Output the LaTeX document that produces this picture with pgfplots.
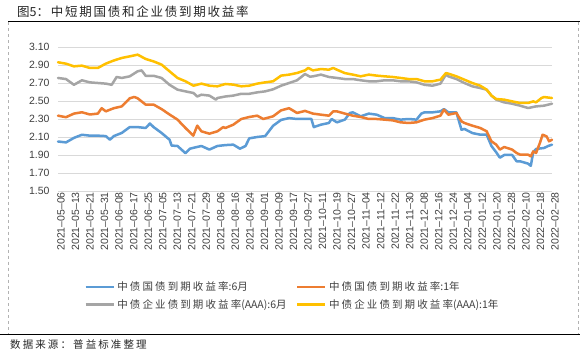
\documentclass[border=0pt]{standalone}
\usepackage{pgfplots}
\usepackage{pgfplotstable}
\pgfplotsset{compat=1.18}
\usepackage{fontspec}
\setmainfont{Liberation Sans}
\newfontfamily\cjk[LetterSpace=20]{Noto Sans CJK SC}
\newfontfamily\cjkn{Noto Sans CJK SC}
\newfontfamily\cjktitle[LetterSpace=14]{Noto Sans CJK SC}
\newcommand{\lat}[1]{{\cjkn #1}}
\definecolor{cblue}{HTML}{5B9BD5}
\definecolor{corange}{HTML}{ED7D31}
\definecolor{cgray}{HTML}{A5A5A5}
\definecolor{cyellow}{HTML}{FFC000}
\definecolor{gridc}{HTML}{D9D9D9}
\definecolor{txt}{HTML}{404040}

\pgfplotstableread{
t v
0 2.05
0.5 2.04
1.0 2.09
1.5 2.125
2.0 2.115
2.5 2.115
3.0 2.11
3.26 2.07
3.5 2.11
4.0 2.145
4.5 2.21
5.0 2.21
5.5 2.20
5.77 2.25
6.0 2.21
6.5 2.145
7.0 2.07
7.13 2.005
7.5 2.00
8.0 1.92
8.28 1.97
8.5 1.98
9.0 2.00
9.5 1.96
10.0 2.00
10.5 2.01
11.0 2.015
11.42 1.97
11.77 2.00
12.0 2.085
12.5 2.10
13.0 2.11
13.5 2.225
14.0 2.29
14.5 2.31
15.0 2.30
15.5 2.30
15.9 2.30
16.05 2.21
16.5 2.237
17.0 2.256
17.17 2.30
17.5 2.263
18.0 2.293
18.32 2.367
18.5 2.374
19.0 2.33
19.5 2.36
20.0 2.348
20.5 2.31
21.0 2.31
21.5 2.293
22.0 2.30
22.5 2.293
22.8 2.36
23.0 2.374
23.5 2.374
24.0 2.385
24.22 2.41
24.5 2.374
25.0 2.374
25.32 2.18
25.5 2.19
26.0 2.144
26.5 2.126
26.9 2.126
27.2 2.00
27.5 1.93
27.73 1.87
28.0 1.90
28.5 1.90
28.78 1.83
29.0 1.83
29.5 1.804
29.67 1.78
29.82 1.93
30.0 1.967
30.5 1.978
30.76 2.00
31.0 2.015
}\govsix

\pgfplotstableread{
t v
0 2.337
0.5 2.32
1.0 2.36
1.5 2.375
2.0 2.35
2.5 2.36
2.74 2.42
3.0 2.385
3.5 2.42
4.0 2.44
4.5 2.53
4.79 2.545
5.0 2.53
5.5 2.46
6.0 2.46
6.5 2.41
7.0 2.35
7.5 2.293
8.0 2.20
8.49 2.115
8.74 2.226
9.0 2.163
9.5 2.137
10.0 2.163
10.37 2.21
10.5 2.20
11.0 2.237
11.5 2.30
12.0 2.322
12.5 2.337
12.88 2.30
13.5 2.33
14.0 2.396
14.5 2.42
15.0 2.367
15.5 2.39
16.0 2.36
16.5 2.348
17.0 2.337
17.27 2.385
17.5 2.385
18.0 2.36
18.5 2.337
19.0 2.322
19.5 2.30
20.0 2.30
20.5 2.293
21.0 2.285
21.5 2.263
22.0 2.256
22.5 2.263
23.0 2.293
23.5 2.31
24.0 2.337
24.22 2.404
24.5 2.348
25.0 2.367
25.32 2.274
25.5 2.256
26.0 2.226
26.5 2.20
26.9 2.163
27.2 2.052
27.5 2.015
27.73 1.96
28.0 1.989
28.5 1.96
28.78 1.922
29.0 1.904
29.5 1.904
29.67 1.885
29.82 1.94
30.0 1.922
30.24 2.033
30.41 2.126
30.66 2.107
30.82 2.052
31.0 2.07
}\govone

\pgfplotstableread{
t v
0 2.756
0.5 2.744
1.0 2.68
1.5 2.73
2.0 2.707
2.5 2.70
3.0 2.693
3.37 2.68
3.68 2.767
4.0 2.756
4.5 2.774
5.0 2.83
5.25 2.84
5.5 2.78
6.0 2.78
6.5 2.756
7.0 2.68
7.5 2.626
8.0 2.607
8.5 2.589
8.74 2.55
9.0 2.57
9.5 2.56
9.91 2.515
10.0 2.533
10.5 2.55
11.0 2.56
11.5 2.58
12.0 2.58
12.5 2.596
13.0 2.607
13.5 2.63
14.0 2.67
14.5 2.70
15.0 2.73
15.5 2.80
15.81 2.77
16.0 2.774
16.5 2.793
17.0 2.767
17.5 2.756
18.0 2.744
18.5 2.744
19.0 2.73
19.5 2.719
20.0 2.719
20.5 2.73
21.0 2.73
21.5 2.719
22.0 2.719
22.5 2.707
23.0 2.68
23.5 2.67
24.0 2.693
24.34 2.793
24.5 2.774
25.0 2.744
25.5 2.70
26.0 2.663
26.5 2.644
26.9 2.626
27.2 2.56
27.5 2.515
28.0 2.485
28.5 2.47
29.0 2.448
29.5 2.422
30.0 2.44
30.5 2.448
31.0 2.47
}\corpsix

\pgfplotstableread{
t v
0 2.93
0.5 2.915
1.0 2.885
1.5 2.893
2.0 2.867
2.5 2.867
3.0 2.915
3.5 2.95
4.0 2.978
4.5 2.996
5.0 3.015
5.5 2.967
6.0 2.94
6.5 2.904
7.0 2.83
7.5 2.756
8.0 2.719
8.5 2.67
9.0 2.693
9.5 2.67
10.0 2.663
10.5 2.689
11.0 2.682
11.5 2.663
12.0 2.67
12.5 2.693
13.0 2.707
13.5 2.719
14.0 2.782
14.5 2.793
15.0 2.811
15.5 2.84
15.7 2.867
16.0 2.84
16.5 2.855
17.0 2.848
17.27 2.867
17.5 2.848
18.0 2.81
18.5 2.793
19.0 2.774
19.5 2.793
20.0 2.782
20.5 2.774
21.0 2.767
21.5 2.756
22.0 2.744
22.5 2.744
23.0 2.719
23.5 2.719
24.0 2.737
24.34 2.81
24.5 2.804
25.0 2.774
25.5 2.737
26.0 2.70
26.5 2.67
26.9 2.626
27.2 2.56
27.5 2.522
28.0 2.515
28.5 2.496
29.0 2.478
29.5 2.478
29.82 2.496
30.0 2.485
30.34 2.533
30.5 2.544
31.0 2.533
}\corpone

\begin{document}
\begin{tikzpicture}
\path[use as bounding box] (0,0) rectangle (587bp,356bp);
\fill[white] (0,0) rectangle (587bp,356bp);
% frame
\draw[black, line width=1bp] (8bp,334bp) -- (580bp,334bp);
\draw[black, line width=1bp] (0bp,21bp) -- (580bp,21bp);
\draw[gray!60, dashed, line width=0.6bp] (8.5bp,333.5bp) -- (8.5bp,21.5bp);
\draw[gray!60, dashed, line width=0.6bp] (578.5bp,333.5bp) -- (578.5bp,21.5bp);
\node[anchor=west, inner sep=0pt, text=black!85, font=\cjktitle\fontsize{12.5bp}{14bp}\selectfont] at (17bp,344bp) {图\lat{5}：中短期国债和企业债到期收益率};
\node[anchor=west, inner sep=0pt, text=black!85, font=\cjk\fontsize{10.5bp}{12bp}\selectfont] at (10bp,11bp) {数据来源：普益标准整理};

\begin{axis}[
  at={(58bp,165bp)}, anchor=south west,
  scale only axis, width=494bp, height=144bp,
  xmin=0, xmax=34, ymin=1.5, ymax=3.1,
  axis line style={draw=none},
  ytick={1.5,1.7,1.9,2.1,2.3,2.5,2.7,2.9,3.1},
  /pgf/number format/fixed,
  /pgf/number format/fixed zerofill,
  /pgf/number format/precision=2,
  /pgf/number format/assume math mode=true,
  yticklabel style={font=\fontsize{10.5bp}{12bp}\selectfont, text=txt, xshift=-5bp},
  xtick={0,...,34},
  xticklabels={2021--05--06,2021--05--13,2021--05--21,2021--05--31,2021--06--08,2021--06--17,2021--06--25,2021--07--05,2021--07--13,2021--07--21,2021--07--29,2021--08--06,2021--08--16,2021--08--24,2021--09--01,2021--09--09,2021--09--17,2021--09--27,2021--10--11,2021--10--19,2021--10--27,2021--11--04,2021--11--12,2021--11--22,2021--11--30,2021--12--08,2021--12--16,2021--12--24,2022--01--04,2022--01--12,2022--01--20,2022--01--28,2022--02--10,2022--02--18,2022--02--28},
  xticklabel style={rotate=90, anchor=east, font=\fontsize{10.5bp}{12bp}\selectfont, text=txt, inner sep=1bp, yshift=-3bp},
  major tick length=0pt,
  ymajorgrids, grid style={gridc, line width=0.8bp},
  clip=false,
  every axis plot/.append style={line width=2.5bp, line join=round, line cap=round},
  legend columns=2,
  legend cell align=left,
  legend image code/.code={\draw[#1, line cap=butt] (0bp,0bp) -- (28bp,0bp);},
  legend style={draw=none, fill=none, inner sep=0pt, anchor=north west,
     at={(0.053,-0.62)},
     font=\cjk\fontsize{10.5bp}{12bp}\selectfont, text=txt,
     nodes={inner xsep=2.5bp, inner ysep=1.5bp},
     /tikz/every even column/.append style={column sep=7bp},
     row sep=4bp},
]
\addplot[cblue] table[x expr=\thisrow{t}*34/31, y=v] {\govsix};
\addlegendentry{中债国债到期收益率\lat{:6}月}
\addplot[corange] table[x expr=\thisrow{t}*34/31, y=v] {\govone};
\addlegendentry{中债国债到期收益率\lat{:1}年}
\addplot[cgray] table[x expr=\thisrow{t}*34/31, y=v] {\corpsix};
\addlegendentry{中债企业债到期收益率\lat{(AAA):6}月}
\addplot[cyellow] table[x expr=\thisrow{t}*34/31, y=v] {\corpone};
\addlegendentry{中债企业债到期收益率\lat{(AAA):1}年}
\end{axis}
\end{tikzpicture}
\end{document}
